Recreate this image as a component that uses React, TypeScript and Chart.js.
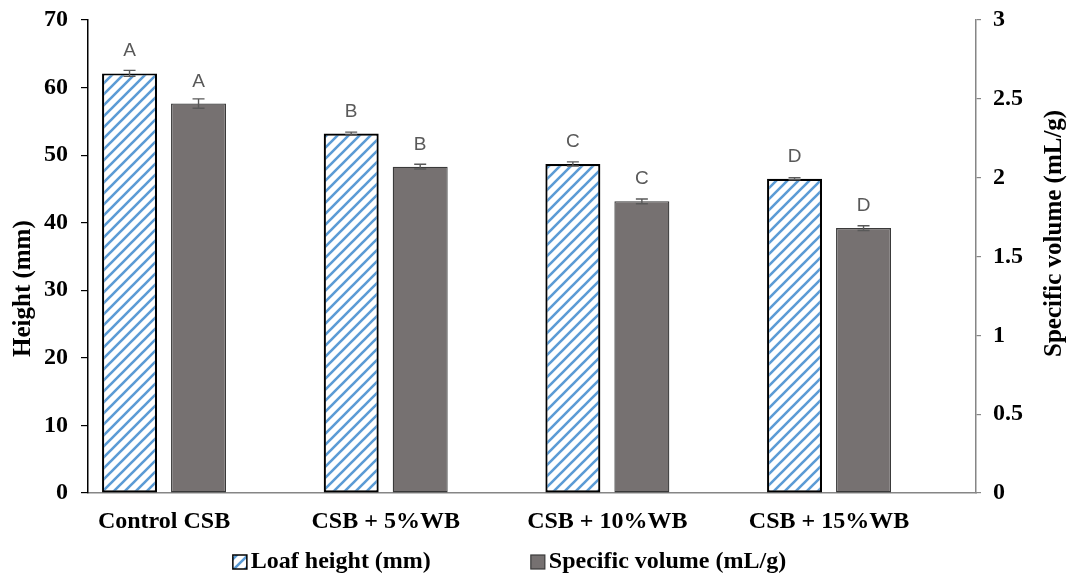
import React, { useEffect, useRef } from 'react';
import { Chart, registerables } from 'chart.js';

Chart.register(...registerables);

const categories = ['Control CSB', 'CSB + 5%WB', 'CSB + 10%WB', 'CSB + 15%WB'];
const loafHeight = [62.1, 53.2, 48.7, 46.5];
const loafHeightErr = [0.45, 0.2, 0.3, 0.15];
const specificVolume = [2.47, 2.07, 1.85, 1.68];
const specificVolumeErr = [0.03, 0.015, 0.015, 0.015];
const heightLetters = ['A', 'B', 'C', 'D'];
const volumeLetters = ['A', 'B', 'C', 'D'];
const leftTicks = [0, 10, 20, 30, 40, 50, 60, 70];
const rightTicks = [0, 0.5, 1, 1.5, 2, 2.5, 3];
const seriesNames = ['Loaf height (mm)', 'Specific volume (mL/g)'];
const axisTitles = ['Height (mm)', 'Specific volume (mL/g)'];

const SERIF = '"Liberation Serif", "Times New Roman", serif';
const HATCH_BLUE = '#5B9BD5';
const GREY_BAR = '#767171';

function makeHatch(): CanvasPattern | string {
  const n = 11;
  const c = document.createElement('canvas');
  c.width = n;
  c.height = n;
  const g = c.getContext('2d');
  if (!g) return HATCH_BLUE;
  g.fillStyle = '#ffffff';
  g.fillRect(0, 0, n, n);
  g.strokeStyle = HATCH_BLUE;
  g.lineWidth = 2.6;
  g.beginPath();
  g.moveTo(-n / 2, n / 2); g.lineTo(n / 2, -n / 2);
  g.moveTo(-2, n + 2); g.lineTo(n + 2, -2);
  g.moveTo(n / 2, n * 1.5); g.lineTo(n * 1.5, n / 2);
  g.stroke();
  const p = g.createPattern(c, 'repeat');
  return p || HATCH_BLUE;
}

const errorLetterPlugin = {
  id: 'errorLetters',
  afterDatasetsDraw(chart: any) {
    const ctx = chart.ctx;
    chart.data.datasets.forEach((ds: any, di: number) => {
      const meta = chart.getDatasetMeta(di);
      const yScale = chart.scales[ds.yAxisID];
      meta.data.forEach((el: any, i: number) => {
        const v = ds.data[i].y;
        const e = ds.errors[i];
        const yT = yScale.getPixelForValue(v + e);
        const yB = yScale.getPixelForValue(v - e);
        ctx.save();
        ctx.strokeStyle = '#595959';
        ctx.lineWidth = 1.4;
        ctx.beginPath();
        ctx.moveTo(el.x, yT); ctx.lineTo(el.x, yB);
        ctx.moveTo(el.x - 6, yT); ctx.lineTo(el.x + 6, yT);
        ctx.moveTo(el.x - 6, yB); ctx.lineTo(el.x + 6, yB);
        ctx.stroke();
        ctx.fillStyle = '#595959';
        ctx.font = '19px "Liberation Sans", Arial, sans-serif';
        ctx.textAlign = 'center';
        ctx.textBaseline = 'alphabetic';
        ctx.fillText(ds.letters[i], el.x, el.y - 17);
        ctx.restore();
      });
    });
  },
};

const titlesLegendPlugin = {
  id: 'titlesLegend',
  afterDraw(chart: any) {
    const ctx = chart.ctx;
    ctx.save();
    ctx.fillStyle = '#000';
    ctx.font = `bold 25px ${SERIF}`;
    ctx.textBaseline = 'middle';
    ctx.textAlign = 'left';
    ctx.save();
    ctx.translate(24, 357);
    ctx.rotate(-Math.PI / 2);
    ctx.fillText(axisTitles[0], 0, 0);
    ctx.restore();
    ctx.save();
    ctx.translate(1055, 357);
    ctx.rotate(-Math.PI / 2);
    ctx.fillText(axisTitles[1], 0, 0);
    ctx.restore();

    ctx.font = `bold 24px ${SERIF}`;
    const box = 14;
    const gap = 4;
    const itemGap = 100;
    const w0 = ctx.measureText(seriesNames[0]).width;
    const w1 = ctx.measureText(seriesNames[1]).width;
    const total = box + gap + w0 + itemGap + box + gap + w1;
    let x = 509.5 - total / 2;
    const yc = 562;
    const ds = chart.data.datasets;
    ctx.fillStyle = ds[0].backgroundColor;
    ctx.fillRect(x, yc - box / 2, box, box);
    ctx.strokeStyle = '#000';
    ctx.lineWidth = 1.5;
    ctx.strokeRect(x, yc - box / 2, box, box);
    ctx.fillStyle = '#000';
    ctx.fillText(seriesNames[0], x + box + gap, yc);
    x += box + gap + w0 + itemGap;
    ctx.fillStyle = ds[1].backgroundColor;
    ctx.fillRect(x, yc - box / 2, box, box);
    ctx.strokeStyle = '#3a3a3a';
    ctx.lineWidth = 1.2;
    ctx.strokeRect(x, yc - box / 2, box, box);
    ctx.fillStyle = '#000';
    ctx.fillText(seriesNames[1], x + box + gap, yc);
    ctx.restore();
  },
};

export default function App() {
  const ref = useRef<HTMLCanvasElement | null>(null);

  useEffect(() => {
    if (!ref.current) return;
    const hatch = makeHatch();
    const tickFont = { family: SERIF, size: 24, weight: 'bold' as const };
    const chart = new Chart(ref.current, {
      type: 'bar',
      data: {
        datasets: [
          {
            label: seriesNames[0],
            data: loafHeight.map((v, i) => ({ x: i, y: v })),
            yAxisID: 'y',
            backgroundColor: hatch as any,
            borderColor: '#000000',
            borderWidth: 2.2,
            borderSkipped: false,
            categoryPercentage: 0.6225,
            barPercentage: 0.797,
            errors: loafHeightErr,
            letters: heightLetters,
          } as any,
          {
            label: seriesNames[1],
            data: specificVolume.map((v, i) => ({ x: i, y: v })),
            yAxisID: 'y1',
            backgroundColor: GREY_BAR,
            borderColor: '#3a3a3a',
            borderWidth: 1.3,
            borderSkipped: false,
            categoryPercentage: 0.6225,
            barPercentage: 0.797,
            errors: specificVolumeErr,
            letters: volumeLetters,
          } as any,
        ],
      },
      options: {
        animation: false,
        responsive: true,
        maintainAspectRatio: false,
        devicePixelRatio: 1,
        layout: { padding: { top: 20, bottom: 40, left: 0, right: 0 } },
        plugins: {
          legend: { display: false },
          tooltip: { enabled: false },
        },
        scales: {
          x: {
            type: 'linear',
            min: -0.343,
            max: 3.663,
            offset: false,
            grid: { display: false, drawTicks: false, offset: false },
            border: { display: true, color: '#868686', width: 1.5 },
            afterBuildTicks: (s: any) => {
              s.ticks = categories.map((_, i) => ({ value: i }));
            },
            ticks: {
              callback: (v: any) => categories[v as number] ?? '',
              font: tickFont,
              color: '#000',
              padding: 14,
              maxRotation: 0,
              autoSkip: false,
            },
            afterFit: (s: any) => {
              s.height = 46;
              s.paddingLeft = 0;
              s.paddingRight = 0;
            },
          } as any,
          y: {
            position: 'left',
            min: 0,
            max: 70,
            afterBuildTicks: (s: any) => {
              s.ticks = leftTicks.map((v) => ({ value: v }));
            },
            ticks: { font: tickFont, color: '#000', padding: 13, callback: (v: any) => String(v) },
            grid: { drawOnChartArea: false, drawTicks: true, tickLength: 7, color: '#000', lineWidth: 1.2 },
            border: { display: true, color: '#000', width: 1.5 },
            afterFit: (s: any) => {
              s.width = 88;
              s.paddingTop = 0;
              s.paddingBottom = 0;
            },
          } as any,
          y1: {
            position: 'right',
            min: 0,
            max: 3,
            afterBuildTicks: (s: any) => {
              s.ticks = rightTicks.map((v) => ({ value: v }));
            },
            ticks: { font: tickFont, color: '#000', padding: 12, callback: (v: any) => String(v) },
            grid: { drawOnChartArea: false, drawTicks: true, tickLength: 5, color: '#868686', lineWidth: 1.2 },
            border: { display: true, color: '#868686', width: 1.5 },
            afterFit: (s: any) => {
              s.width = 95;
              s.paddingTop = 0;
              s.paddingBottom = 0;
            },
          } as any,
        },
      },
      plugins: [errorLetterPlugin, titlesLegendPlugin],
    });
    return () => chart.destroy();
  }, []);

  return (
    <div style={{ position: 'fixed', left: 0, top: 0, width: 1071, height: 579, background: '#fff' }}>
      <canvas ref={ref} />
    </div>
  );
}
